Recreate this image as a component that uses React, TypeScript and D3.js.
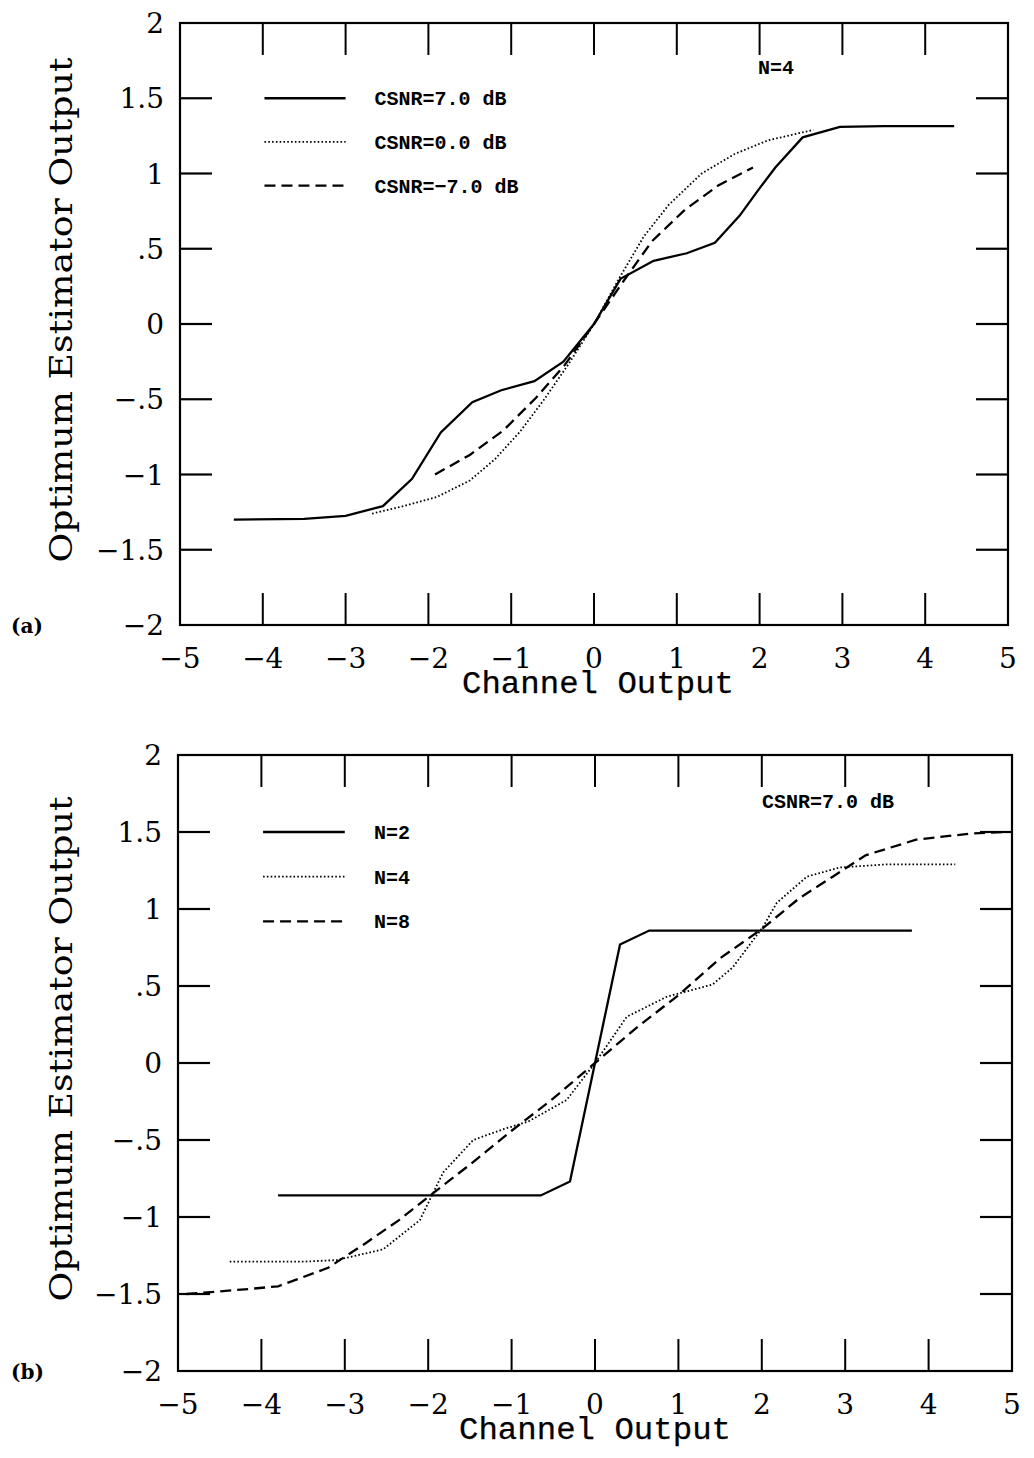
import React, { useEffect, useRef } from 'react';
import * as d3 from 'd3';

// ---- panel (a): N=4, three channel SNRs ----
const csnrHighX = [-4.35, -3.5, -3.0, -2.55, -2.2, -1.85, -1.47, -1.12, -0.72, -0.37, 0, 0.32, 0.72, 1.12, 1.46, 1.76, 1.97, 2.19, 2.52, 2.97, 3.5, 4.35];
const csnrHighY = [-1.3, -1.295, -1.275, -1.21, -1.03, -0.72, -0.52, -0.44, -0.38, -0.25, 0, 0.3, 0.42, 0.47, 0.54, 0.72, 0.88, 1.04, 1.24, 1.31, 1.315, 1.315];

const csnrMidX = [-2.68, -2.3, -1.9, -1.5, -1.2, -0.9, -0.6, -0.3, 0, 0.3, 0.6, 0.9, 1.3, 1.7, 2.1, 2.65];
const csnrMidY = [-1.26, -1.21, -1.15, -1.04, -0.9, -0.72, -0.5, -0.26, 0, 0.3, 0.58, 0.79, 1.0, 1.13, 1.22, 1.29];

const csnrLowX = [-1.92, -1.5, -1.1, -0.7, -0.35, 0, 0.35, 0.7, 1.1, 1.5, 1.92];
const csnrLowY = [-1.0, -0.87, -0.71, -0.49, -0.27, 0, 0.28, 0.55, 0.76, 0.92, 1.04];

// ---- panel (b): CSNR=7.0 dB, three codebook sizes ----
const n2X = [-3.8, -0.65, -0.3, 0.3, 0.65, 3.8];
const n2Y = [-0.86, -0.86, -0.77, 0.77, 0.86, 0.86];

const n4X = [-4.38, -3.5, -3.1, -2.54, -2.1, -1.82, -1.46, -1.1, -0.8, -0.34, 0, 0.38, 0.86, 1.41, 1.65, 2.01, 2.18, 2.54, 2.94, 3.5, 4.32];
const n4Y = [-1.29, -1.29, -1.28, -1.21, -1.02, -0.71, -0.5, -0.43, -0.38, -0.24, 0, 0.3, 0.43, 0.51, 0.62, 0.88, 1.04, 1.21, 1.27, 1.29, 1.29];

const n8X = [-4.9, -4.2, -3.8, -3.2, -2.75, -2.35, -2.0, -1.5, -1.0, -0.5, 0, 0.5, 1.0, 1.5, 2.0, 2.45, 2.85, 3.25, 3.85, 4.5, 4.9];
const n8Y = [-1.5, -1.47, -1.45, -1.33, -1.17, -1.02, -0.87, -0.66, -0.44, -0.23, 0, 0.23, 0.44, 0.68, 0.87, 1.07, 1.21, 1.35, 1.45, 1.49, 1.5];

// ---- axes ----
const xTicks = [-5, -4, -3, -2, -1, 0, 1, 2, 3, 4, 5];
const yTicks = [2, 1.5, 1, 0.5, 0, -0.5, -1, -1.5, -2];
const yTickLabels = ['2', '1.5', '1', '.5', '0', '\u2212.5', '\u22121', '\u22121.5', '\u22122'];

const legendA = ['CSNR=7.0 dB', 'CSNR=0.0 dB', 'CSNR=\u22127.0 dB'];
const legendB = ['N=2', 'N=4', 'N=8'];

const DASH = { solid: null, dotted: '1.6 2.2', dashed: '11 6' };

type Series = { xs: number[]; ys: number[]; style: keyof typeof DASH };

const SERIF = '"DejaVu Serif", serif';
const MONO = '"Liberation Mono", monospace';

function drawPanel(
  svg: d3.Selection<SVGSVGElement, unknown, null, undefined>,
  box: { left: number; right: number; top: number; bottom: number },
  series: Series[],
  legend: string[],
  note: { text: string; x: number; y: number },
  tag: string,
  titleShift: number
) {
  const x = d3.scaleLinear().domain([-5, 5]).range([box.left, box.right]);
  const y = d3.scaleLinear().domain([-2, 2]).range([box.bottom, box.top]);
  const g = svg.append('g');
  const tickLen = 32;

  // frame
  g.append('rect')
    .attr('x', box.left)
    .attr('y', box.top)
    .attr('width', box.right - box.left)
    .attr('height', box.bottom - box.top)
    .attr('fill', 'none')
    .attr('stroke', '#000')
    .attr('stroke-width', 2.2);

  // inward ticks, all four sides
  const innerX = xTicks.slice(1, -1);
  const innerY = yTicks.slice(1, -1);
  innerX.forEach((t) => {
    g.append('line').attr('x1', x(t)).attr('x2', x(t)).attr('y1', box.top).attr('y2', box.top + tickLen)
      .attr('stroke', '#000').attr('stroke-width', 2);
    g.append('line').attr('x1', x(t)).attr('x2', x(t)).attr('y1', box.bottom).attr('y2', box.bottom - tickLen)
      .attr('stroke', '#000').attr('stroke-width', 2);
  });
  innerY.forEach((t) => {
    g.append('line').attr('x1', box.left).attr('x2', box.left + tickLen).attr('y1', y(t)).attr('y2', y(t))
      .attr('stroke', '#000').attr('stroke-width', 2.2);
    g.append('line').attr('x1', box.right).attr('x2', box.right - tickLen).attr('y1', y(t)).attr('y2', y(t))
      .attr('stroke', '#000').attr('stroke-width', 2.2);
  });

  // tick labels
  g.selectAll('.xl')
    .data(xTicks)
    .enter()
    .append('text')
    .attr('x', (d) => x(d))
    .attr('y', box.bottom + 43)
    .attr('text-anchor', 'middle')
    .attr('font-family', SERIF)
    .attr('font-size', 28)
    .text((d) => (d < 0 ? '\u2212' + Math.abs(d) : String(d)));

  g.selectAll('.yl')
    .data(yTicks)
    .enter()
    .append('text')
    .attr('x', box.left - 16)
    .attr('y', (d) => y(d) + 10)
    .attr('text-anchor', 'end')
    .attr('font-family', SERIF)
    .attr('font-size', 28)
    .text((d, i) => yTickLabels[i]);

  // axis titles
  g.append('text')
    .attr('x', (box.left + box.right) / 2 + titleShift)
    .attr('y', box.bottom + 68)
    .attr('text-anchor', 'middle')
    .attr('font-family', MONO)
    .attr('font-size', 31)
    .attr('stroke', '#000')
    .attr('stroke-width', 0.25)
    .attr('textLength', 272)
    .attr('lengthAdjust', 'spacingAndGlyphs')
    .text('Channel Output');

  const midY = (box.top + box.bottom) / 2 - 14;
  g.append('text')
    .attr('transform', `translate(72, ${midY}) rotate(-90)`)
    .attr('text-anchor', 'middle')
    .attr('font-family', SERIF)
    .attr('font-size', 32)
    .attr('textLength', 505)
    .attr('lengthAdjust', 'spacingAndGlyphs')
    .text('Optimum Estimator Output');

  g.append('text')
    .attr('x', 11)
    .attr('y', box.bottom + 8)
    .attr('font-family', SERIF)
    .attr('font-weight', 'bold')
    .attr('font-size', 20)
    .text(tag);

  // curves
  const line = d3
    .line<[number, number]>()
    .x((d) => x(d[0]))
    .y((d) => y(d[1]));

  series.forEach((s) => {
    const pts = s.xs.map((v, i) => [v, s.ys[i]] as [number, number]);
    g.append('path')
      .attr('d', line(pts))
      .attr('fill', 'none')
      .attr('stroke', '#000')
      .attr('stroke-width', s.style === 'dotted' ? 1.8 : 2.3)
      .attr('stroke-dasharray', DASH[s.style]);
  });

  // legend
  const rowY = [1.5, 1.21, 0.92];
  series.forEach((s, i) => {
    const ly = y(rowY[i]);
    g.append('line')
      .attr('x1', x(-3.98))
      .attr('x2', x(-3.0))
      .attr('y1', ly)
      .attr('y2', ly)
      .attr('stroke', '#000')
      .attr('stroke-width', s.style === 'dotted' ? 1.8 : 2.3)
      .attr('stroke-dasharray', DASH[s.style]);
    g.append('text')
      .attr('x', x(-2.65))
      .attr('y', ly + 7)
      .attr('font-family', MONO)
      .attr('font-weight', 'bold')
      .attr('font-size', 20)
      .text(legend[i]);
  });

  g.append('text')
    .attr('x', note.x)
    .attr('y', note.y)
    .attr('font-family', MONO)
    .attr('font-weight', 'bold')
    .attr('font-size', 20)
    .text(note.text);
}

const App = () => {
  const svgRef = useRef<SVGSVGElement>(null);

  useEffect(() => {
    const svg = d3.select(svgRef.current as SVGSVGElement);
    svg.selectAll('*').remove();

    drawPanel(
      svg,
      { left: 180, right: 1008, top: 23, bottom: 625 },
      [
        { xs: csnrHighX, ys: csnrHighY, style: 'solid' },
        { xs: csnrMidX, ys: csnrMidY, style: 'dotted' },
        { xs: csnrLowX, ys: csnrLowY, style: 'dashed' },
      ],
      legendA,
      { text: 'N=4', x: 758, y: 74 },
      '(a)',
      4
    );

    drawPanel(
      svg,
      { left: 178, right: 1012, top: 755, bottom: 1371 },
      [
        { xs: n2X, ys: n2Y, style: 'solid' },
        { xs: n4X, ys: n4Y, style: 'dotted' },
        { xs: n8X, ys: n8Y, style: 'dashed' },
      ],
      legendB,
      { text: 'CSNR=7.0 dB', x: 762, y: 808 },
      '(b)',
      0
    );
  }, []);

  return (
    <>
      <style>{'body{margin:0;background:#fff}'}</style>
      <svg ref={svgRef} width={1034} height={1458} style={{ display: 'block', background: '#fff' }} />
    </>
  );
};

export default App;
